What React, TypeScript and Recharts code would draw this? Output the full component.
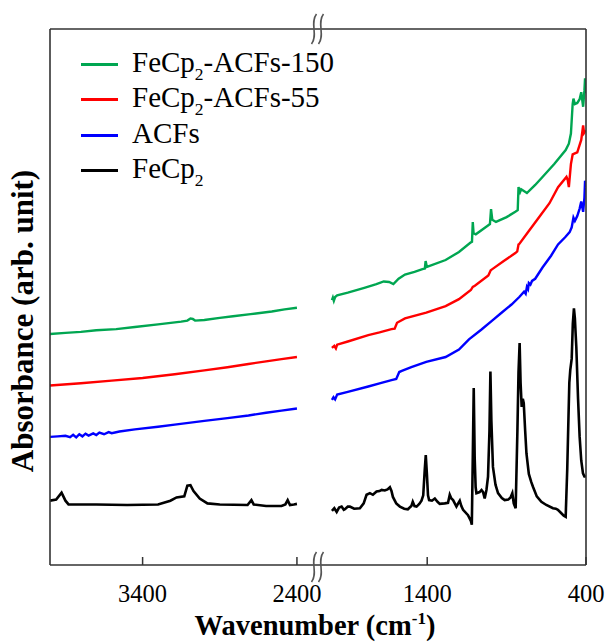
import React from 'react';
import { LineChart, Line, XAxis, YAxis, Legend, ReferenceDot } from 'recharts';

type Pt = [number, number];

// ---- Data: [wavenumber (cm-1), absorbance (arb. unit, offset)] ----
const green150Left: Pt[] = [
  [4000, 43.1], [3900, 43.3], [3800, 43.5], [3700, 43.8], [3571, 44.0], [3450, 44.4],
  [3300, 44.9], [3150, 45.4], [3110, 45.6], [3090, 46.0], [3075, 45.9], [3060, 45.6],
  [3000, 45.7], [2900, 46.1], [2814, 46.4], [2700, 46.8], [2563, 47.3], [2480, 47.7], [2400, 48.0],
];
const green150Right: Pt[] = [
  [2000, 49.4], [1994, 49.9], [1988, 49.3], [1980, 50.0], [1967, 50.3], [1900, 50.8],
  [1796, 51.7], [1720, 52.4], [1674, 52.9], [1640, 52.8], [1613, 52.4], [1580, 53.4],
  [1540, 54.2], [1480, 54.7], [1430, 55.2], [1415, 55.3], [1410, 56.7], [1402, 55.6],
  [1393, 55.7], [1284, 56.9], [1200, 58.4], [1125, 60.2], [1118, 60.3], [1113, 64.0],
  [1108, 61.9], [1094, 61.7], [1015, 63.4], [1005, 63.6], [998, 66.4], [990, 64.4],
  [967, 64.0], [900, 64.9], [845, 65.9], [830, 66.2], [825, 70.5], [815, 69.6],
  [808, 70.1], [772, 69.4], [720, 70.9], [674, 72.4], [600, 74.8], [528, 77.4],
  [508, 78.6], [495, 80.5], [484, 86.0], [479, 87.0], [470, 86.0], [455, 86.2],
  [440, 86.9], [430, 88.2], [418, 85.5], [410, 88.5], [406, 90.8], [401, 88.0],
];
const red55Left: Pt[] = [
  [4000, 33.5], [3800, 33.9], [3600, 34.4], [3400, 34.9], [3192, 35.6], [3000, 36.3],
  [2850, 36.9], [2714, 37.5], [2600, 38.0], [2500, 38.4], [2400, 38.8],
];
const red55Right: Pt[] = [
  [2000, 40.5], [1985, 40.9], [1975, 40.4], [1967, 41.1], [1900, 41.7], [1771, 42.9],
  [1700, 43.4], [1625, 44.0], [1605, 44.1], [1590, 45.2], [1540, 46.0], [1406, 47.1],
  [1284, 48.3], [1200, 49.6], [1125, 51.3], [1113, 51.9], [1100, 52.1], [1015, 54.0],
  [1000, 55.0], [990, 55.2], [918, 56.7], [845, 58.2], [833, 58.5], [825, 59.8],
  [820, 59.9], [760, 62.3], [698, 64.8], [630, 67.5], [576, 70.5], [523, 72.4],
  [515, 71.8], [508, 70.5], [495, 74.8], [484, 76.6], [470, 76.8], [455, 77.0],
  [440, 78.4], [430, 79.3], [418, 82.0], [412, 80.6], [406, 80.9], [400, 81.0],
];
const acfsLeft: Pt[] = [
  [4000, 23.9], [3950, 24.0], [3900, 24.1], [3870, 23.85], [3850, 24.3], [3830, 23.8],
  [3810, 24.4], [3790, 24.0], [3770, 24.5], [3750, 24.15], [3720, 24.55], [3700, 24.25],
  [3680, 24.7], [3650, 24.4], [3620, 24.8], [3600, 24.6], [3550, 24.9], [3450, 25.3],
  [3300, 25.8], [3192, 26.2], [3000, 26.9], [2850, 27.4], [2714, 27.9], [2600, 28.4],
  [2500, 28.8], [2400, 29.2],
];
const acfsRight: Pt[] = [
  [2000, 30.8], [1990, 31.3], [1980, 30.9], [1967, 31.8], [1900, 32.3], [1771, 33.3],
  [1700, 33.9], [1625, 34.5], [1595, 34.7], [1576, 36.0], [1560, 36.2], [1500, 36.9],
  [1406, 37.9], [1284, 38.8], [1200, 40.2], [1137, 42.1], [1060, 43.9], [991, 45.6],
  [930, 47.1], [869, 48.6], [820, 50.0], [790, 51.0], [780, 50.6], [772, 51.9],
  [765, 51.5], [760, 52.6], [750, 52.3], [740, 53.0], [720, 53.4], [674, 55.5],
  [620, 57.7], [576, 59.8], [530, 61.2], [503, 62.1], [490, 63.0], [479, 64.8],
  [470, 64.2], [455, 65.1], [440, 66.5], [430, 67.8], [418, 65.9], [410, 68.5],
  [406, 71.7], [401, 70.5],
];
const fecp2Left: Pt[] = [
  [4000, 12.0], [3960, 12.2], [3925, 13.5], [3900, 12.0], [3880, 11.3], [3700, 11.3],
  [3500, 11.2], [3300, 11.3], [3220, 12.0], [3180, 12.6], [3130, 12.8], [3110, 14.8],
  [3090, 14.9], [3070, 13.8], [3030, 12.4], [2980, 11.5], [2900, 11.3], [2720, 11.2],
  [2695, 12.1], [2680, 11.3], [2600, 11.0], [2500, 11.0], [2475, 11.3], [2460, 12.1],
  [2445, 11.2], [2420, 11.3], [2400, 11.4],
];
const fecp2Right: Pt[] = [
  [2000, 10.1], [1985, 10.6], [1970, 9.9], [1955, 10.7], [1939, 10.9], [1925, 10.3],
  [1918, 10.4], [1900, 10.9], [1887, 10.9], [1860, 10.5], [1824, 10.6], [1800, 11.5],
  [1782, 13.1], [1761, 13.4], [1742, 13.1], [1719, 13.7], [1700, 13.8], [1687, 14.0],
  [1667, 13.9], [1650, 14.1], [1635, 14.5], [1625, 13.8], [1616, 12.7], [1595, 11.5],
  [1572, 10.9], [1545, 10.5], [1522, 10.4], [1500, 11.0], [1491, 11.8], [1480, 11.0],
  [1467, 10.9], [1450, 11.4], [1436, 12.0], [1425, 13.0], [1415, 18.0], [1409, 20.5],
  [1402, 17.0], [1395, 13.0], [1388, 12.1], [1370, 12.0], [1352, 12.4], [1335, 11.8],
  [1321, 11.4], [1290, 11.5], [1269, 11.6], [1258, 13.1], [1248, 12.4], [1237, 12.1],
  [1216, 10.9], [1205, 11.5], [1195, 12.0], [1185, 11.0], [1174, 10.3], [1143, 9.3],
  [1125, 8.2], [1119, 7.5], [1113, 20.0], [1107, 33.0], [1101, 20.0], [1095, 14.5],
  [1090, 13.4], [1070, 13.6], [1058, 14.0], [1048, 13.6], [1038, 12.4], [1027, 14.0],
  [1017, 16.5], [1008, 25.0], [1002, 36.1], [996, 27.0], [986, 18.3], [970, 15.0],
  [954, 13.4], [930, 12.5], [912, 12.1], [890, 12.2], [875, 12.6], [864, 13.4],
  [855, 11.5], [843, 10.6], [832, 25.0], [825, 36.0], [818, 41.4], [812, 34.0],
  [805, 29.5], [798, 31.0], [792, 30.2], [783, 25.0], [775, 20.8], [760, 17.0],
  [745, 15.5], [734, 14.6], [710, 12.8], [681, 11.8], [650, 11.2], [608, 10.6],
  [590, 10.5], [577, 10.3], [560, 9.8], [540, 9.2], [528, 9.0], [518, 18.0],
  [510, 28.0], [505, 34.0], [499, 36.4], [490, 38.5], [483, 45.0], [476, 47.9],
  [470, 46.0], [465, 43.0], [461, 40.7], [450, 31.0], [440, 23.9], [430, 19.5],
  [419, 17.1], [410, 16.5], [404, 16.5], [400, 16.4],
];

const leftTicks = [3400, 2400];
const rightTicks = [1400, 400];
const leftDomain: [number, number] = [2270, 4000];
const rightDomain: [number, number] = [400, 2094];
const yDomain: [number, number] = [0, 100];

const series = [
  { key: 'g', main: 'FeCp', sub: '2', rest: '-ACFs-150', color: '#00A651', width: 2.4, left: green150Left, right: green150Right },
  { key: 'r', main: 'FeCp', sub: '2', rest: '-ACFs-55', color: '#FF0000', width: 2.4, left: red55Left, right: red55Right },
  { key: 'b', main: 'ACFs', sub: '', rest: '', color: '#0000FF', width: 2.4, left: acfsLeft, right: acfsRight },
  { key: 'k', main: 'FeCp', sub: '2', rest: '', color: '#000000', width: 2.6, left: fecp2Left, right: fecp2Right },
];

const toRows = (pts: Pt[]) => pts.map(([w, v]) => ({ w, v }));

const FONT = '"Liberation Serif", "Times New Roman", Times, serif';
const FRAME = '#333333';
const W = 608;
const H = 644;
const PLOT_LEFT = 50;
const PLOT_RIGHT = 586;
const PLOT_TOP = 29;
const PLOT_BOTTOM = 565;
const SPLIT = 317;

const tickStyle = { fontSize: 24.5, fill: '#000', fontFamily: FONT };

const BreakMark = (props: any) => {
  const { cx, cy, dyOff = 0 } = props;
  const y = cy + dyOff;
  const path = (x: number) =>
    `M ${x + 2.5} ${y - 15} C ${x - 4.5} ${y - 6}, ${x + 4.5} ${y + 6}, ${x - 2.5} ${y + 15}`;
  return (
    <g>
      {[cx - 3, cx + 4].map((x, i) => (
        <path key={i} d={path(x)} fill="none" stroke="#555" strokeWidth={1.6} />
      ))}
    </g>
  );
};

const LegendBox = () => (
  <div style={{ fontFamily: FONT, fontSize: 29, color: '#000' }}>
    {series.map((s) => (
      <div key={s.key} style={{ display: 'flex', alignItems: 'center', height: 35.5, whiteSpace: 'nowrap' }}>
        <span style={{ display: 'inline-block', width: 37, height: 3, background: s.color }} />
        <span style={{ marginLeft: 14, position: 'relative', top: -2, lineHeight: '35.5px' }}>
          {s.main}
          {s.sub ? (
            <span style={{ fontSize: 17.5, position: 'relative', top: 8, lineHeight: 0 }}>{s.sub}</span>
          ) : null}
          {s.rest}
        </span>
      </div>
    ))}
  </div>
);

const axisLine = { stroke: FRAME, strokeWidth: 1.6 };

export default function App() {
  return (
    <div style={{ position: 'absolute', left: 0, top: 0, width: W, height: H, background: '#fff' }}>
      {/* Left part: 4000 - 2400 cm-1 */}
      <div style={{ position: 'absolute', left: 0, top: 0 }}>
        <LineChart
          width={W}
          height={H}
          margin={{ top: PLOT_TOP - 1, right: W - SPLIT, bottom: H - PLOT_BOTTOM - 1, left: PLOT_LEFT - 1 }}
        >
          <XAxis
            dataKey="w"
            type="number"
            domain={leftDomain}
            reversed
            allowDataOverflow
            ticks={leftTicks}
            interval={0}
            height={1}
            tick={tickStyle}
            tickSize={-8}
            tickMargin={28.1}
            tickLine={{ stroke: FRAME, strokeWidth: 1.5 }}
            axisLine={axisLine}
          />
          <XAxis
            xAxisId="top"
            orientation="top"
            type="number"
            domain={leftDomain}
            height={1}
            tick={false}
            tickLine={false}
            axisLine={axisLine}
          />
          <YAxis
            type="number"
            domain={yDomain}
            width={1}
            tick={false}
            tickLine={false}
            axisLine={axisLine}
          />
          {series.map((s) => (
            <Line
              key={s.key + 'L'}
              data={toRows(s.left)}
              dataKey="v"
              type="linear"
              stroke={s.color}
              strokeWidth={s.width}
              dot={false}
              activeDot={false}
              isAnimationActive={false}
            />
          ))}
          <Legend
            layout="vertical"
            align="center"
            verticalAlign="middle"
            content={() => <LegendBox />}
            wrapperStyle={{ left: 81, top: 46.5, width: 'auto', height: 'auto' }}
          />
        </LineChart>
      </div>
      {/* Right part: 2000 - 400 cm-1 */}
      <div style={{ position: 'absolute', left: 0, top: 0 }}>
        <LineChart
          width={W}
          height={H}
          margin={{ top: PLOT_TOP - 1, right: W - PLOT_RIGHT - 1, bottom: H - PLOT_BOTTOM - 1, left: SPLIT }}
        >
          <XAxis
            dataKey="w"
            type="number"
            domain={rightDomain}
            reversed
            allowDataOverflow
            ticks={rightTicks}
            interval={0}
            height={1}
            tick={tickStyle}
            tickSize={-8}
            tickMargin={28.1}
            tickLine={{ stroke: FRAME, strokeWidth: 1.5 }}
            axisLine={axisLine}
          />
          <XAxis
            xAxisId="top"
            orientation="top"
            type="number"
            domain={rightDomain}
            height={1}
            tick={false}
            tickLine={false}
            axisLine={axisLine}
          />
          <YAxis
            orientation="right"
            type="number"
            domain={yDomain}
            width={1}
            tick={false}
            tickLine={false}
            axisLine={axisLine}
          />
          {series.map((s) => (
            <Line
              key={s.key + 'R'}
              data={toRows(s.right)}
              dataKey="v"
              type="linear"
              stroke={s.color}
              strokeWidth={s.width}
              dot={false}
              activeDot={false}
              isAnimationActive={false}
            />
          ))}
          <ReferenceDot x={2094} y={100} r={1} ifOverflow="visible" shape={(p: any) => <BreakMark {...p} dyOff={0} />} />
          <ReferenceDot x={2094} y={0} r={1} ifOverflow="visible" shape={(p: any) => <BreakMark {...p} dyOff={2} />} />
        </LineChart>
      </div>
      {/* Axis titles */}
      <svg width={W} height={H} style={{ position: 'absolute', left: 0, top: 0, pointerEvents: 'none' }}>
        <text x={315} y={635} textAnchor="middle" fontFamily={FONT} fontWeight="bold" fontSize={28.5} fill="#000">
          Wavenumber (cm
          <tspan dy={-11} fontSize={17}>-1</tspan>
          <tspan dy={11}>)</tspan>
        </text>
        <text
          transform="translate(33,321) rotate(-90)"
          textAnchor="middle"
          fontFamily={FONT}
          fontWeight="bold"
          fontSize={31}
          fill="#000"
        >
          Absorbance (arb. unit)
        </text>
      </svg>
    </div>
  );
}
